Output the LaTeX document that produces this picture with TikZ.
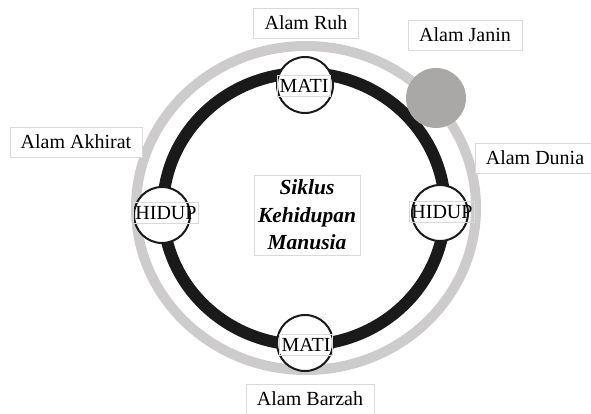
\documentclass[tikz,border=0pt]{standalone}
\usepackage{fontspec}
\setmainfont{Liberation Serif}
\usetikzlibrary{positioning}
\definecolor{cincin}{RGB}{205,203,203}
\definecolor{janin}{RGB}{170,167,167}
\definecolor{hitam}{RGB}{26,26,26}
\begin{document}
\begin{tikzpicture}[x=1pt,y=-1pt,
    alam/.style={draw=black!15, fill=white, font=\fontsize{20}{22}\selectfont, minimum height=30pt, inner xsep=11pt},
    titik/.style={circle, draw=hitam, line width=2pt, fill=white, minimum size=56pt, inner sep=0pt},
    fase/.style={draw=black!15, font=\fontsize{20}{22}\selectfont, inner xsep=2pt, inner ysep=1pt, minimum height=21pt}]
    \useasboundingbox (0,0) rectangle (591,414);
    % kedua lingkaran
    \draw[cincin, line width=10pt] (306,208) ellipse [x radius=170pt, y radius=162pt];
    \draw[hitam, line width=12pt] (304,209) ellipse [x radius=141pt, y radius=136pt];
    \fill[janin] (436,98) circle [radius=30pt];
    % titik mati dan hidup
    \node[titik] (matiatas) at (305,85) {};
    \node[titik] (matibawah) at (305,343) {};
    \node[titik] (hidupkiri) at (162,215) {};
    \node[titik] (hidupkanan) at (440,213) {};
    \node[fase] (tmatiatas) at (304,86) {MATI};
    \node[fase] (tmatibawah) at (306,345) {MATI};
    \node[fase] (thidupkiri) at (166,213) {HIDUP};
    \node[fase] (thidupkanan) at (442,212) {HIDUP};
    % nama alam
    \node[alam] (ruh) at (306,23) {Alam Ruh};
    \node[alam] (janin) at (465,35) {Alam Janin};
    \node[alam] (akhirat) at (76,142) {Alam Akhirat};
    \node[alam] (dunia) at (535,158) {Alam Dunia};
    \node[alam] (barzah) at (310,399) {Alam Barzah};
    \node[draw=black!15, align=center, inner xsep=4pt, inner ysep=5pt,
          font=\bfseries\itshape\fontsize{21.5}{27.5}\selectfont] (siklus) at (307,215) {Siklus\\Kehidupan\\Manusia};
\end{tikzpicture}
\end{document}
